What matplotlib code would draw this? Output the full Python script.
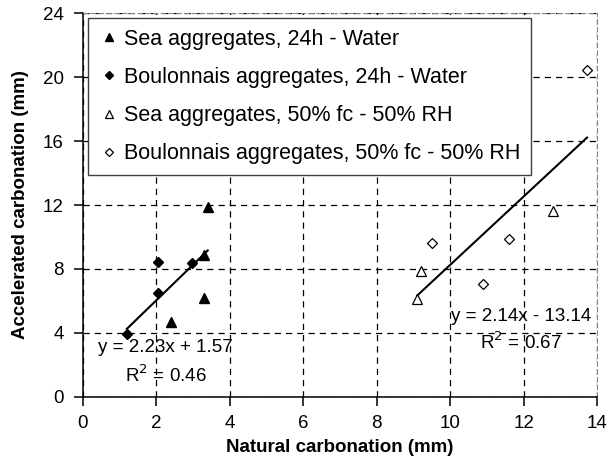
"""Accelerated vs natural carbonation, with linear trend lines."""
import numpy as np
import matplotlib
matplotlib.use("Agg")
import matplotlib.pyplot as plt

plt.rcParams["font.family"] = ["Liberation Sans", "DejaVu Sans"]

# Sea aggregates, 24h - Water (filled triangles)
sea_w_x = [3.4, 3.3, 3.3, 2.4]
sea_w_y = [11.9, 8.85, 6.15, 4.7]
# Boulonnais aggregates, 24h - Water (filled diamonds)
bou_w_x = [2.06, 2.06, 2.97, 1.2]
bou_w_y = [8.45, 6.5, 8.4, 3.9]
# Sea aggregates, 50% fc - 50% RH (open triangles)
sea_rh_x = [9.1, 9.19, 12.79]
sea_rh_y = [6.1, 7.85, 11.6]
# Boulonnais aggregates, 50% fc - 50% RH (open diamonds)
bou_rh_x = [9.49, 10.9, 11.6, 13.72]
bou_rh_y = [9.6, 7.05, 9.9, 20.45]

labels = [
    "Sea aggregates, 24h - Water",
    "Boulonnais aggregates, 24h - Water",
    "Sea aggregates, 50% fc - 50% RH",
    "Boulonnais aggregates, 50% fc - 50% RH",
]

# trend lines: slope, intercept, R²
fit_w = (2.23, 1.57, 0.46)
fit_rh = (2.14, -13.14, 0.67)

x_ticks = [0, 2, 4, 6, 8, 10, 12, 14]
y_ticks = [0, 4, 8, 12, 16, 20, 24]

fig = plt.figure(figsize=(6.11, 4.67), dpi=100)
ax = fig.add_axes([0.1354, 0.1505, 0.8422, 0.821])

ax.set_xlim(0, 14)
ax.set_ylim(0, 24)
ax.set_xticks(x_ticks)
ax.set_yticks(y_ticks)
ax.grid(True, color="black", linestyle=(0, (5, 4)), linewidth=0.9)
ax.set_axisbelow(True)

for side in ("top", "right"):
    ax.spines[side].set_color("#888888")
    ax.spines[side].set_linestyle((0, (4, 3)))
    ax.spines[side].set_linewidth(0.8)
for side in ("left", "bottom"):
    ax.spines[side].set_linewidth(1.1)
ax.tick_params(direction="out", length=6.5, width=1.1, labelsize=13.5)
ax.tick_params(axis="x", pad=7)
ax.tick_params(axis="y", pad=7)

# trend lines over the range of their groups
xw = np.array([min(sea_w_x + bou_w_x), max(sea_w_x + bou_w_x)])
xr = np.array([min(sea_rh_x + bou_rh_x), max(sea_rh_x + bou_rh_x)])
ax.plot(xw, fit_w[0] * xw + fit_w[1], color="black", linewidth=1.5, zorder=3)
ax.plot(xr, fit_rh[0] * xr + fit_rh[1], color="black", linewidth=1.5, zorder=3)

h1, = ax.plot(sea_w_x, sea_w_y, linestyle="none", marker="^", markersize=7,
              color="black", zorder=4)
h2, = ax.plot(bou_w_x, bou_w_y, linestyle="none", marker="D", markersize=5.5,
              color="black", zorder=4)
h3, = ax.plot(sea_rh_x, sea_rh_y, linestyle="none", marker="^", markersize=7,
              markerfacecolor="white", markeredgecolor="black", markeredgewidth=0.9, zorder=4)
h4, = ax.plot(bou_rh_x, bou_rh_y, linestyle="none", marker="D", markersize=5.5,
              markerfacecolor="white", markeredgecolor="black", markeredgewidth=0.9, zorder=4)

ax.text(2.25, 3.05, f"y = {fit_w[0]:.2f}x + {fit_w[1]:.2f}", fontsize=13.5,
        ha="center", va="center", zorder=5)
ax.text(2.25, 1.36, f"R$^2$ = {fit_w[2]:.2f}", fontsize=13.5,
        ha="center", va="center", zorder=5)
ax.text(11.92, 4.99, f"y = {fit_rh[0]:.2f}x - {abs(fit_rh[1]):.2f}", fontsize=13.5,
        ha="center", va="center", zorder=5)
ax.text(11.92, 3.38, f"R$^2$ = {fit_rh[2]:.2f}", fontsize=13.5,
        ha="center", va="center", zorder=5)

leg = ax.legend([h1, h2, h3, h4], labels, loc="upper left",
                bbox_to_anchor=(0.0103, 0.9877), borderaxespad=0,
                fontsize=15.5, frameon=True, fancybox=False, framealpha=1,
                edgecolor="#404040", handlelength=0.95, handletextpad=0.2,
                labelspacing=0.8, borderpad=0.5, markerscale=0.75)
leg.get_frame().set_linewidth(1.0)
leg.set_zorder(6)

ax.set_xlabel("Natural carbonation (mm)", fontsize=13.5, fontweight="bold", labelpad=5)
ax.set_ylabel("Accelerated carbonation (mm)", fontsize=13.5, fontweight="bold", labelpad=10)

fig.savefig("out.png", dpi=100)
